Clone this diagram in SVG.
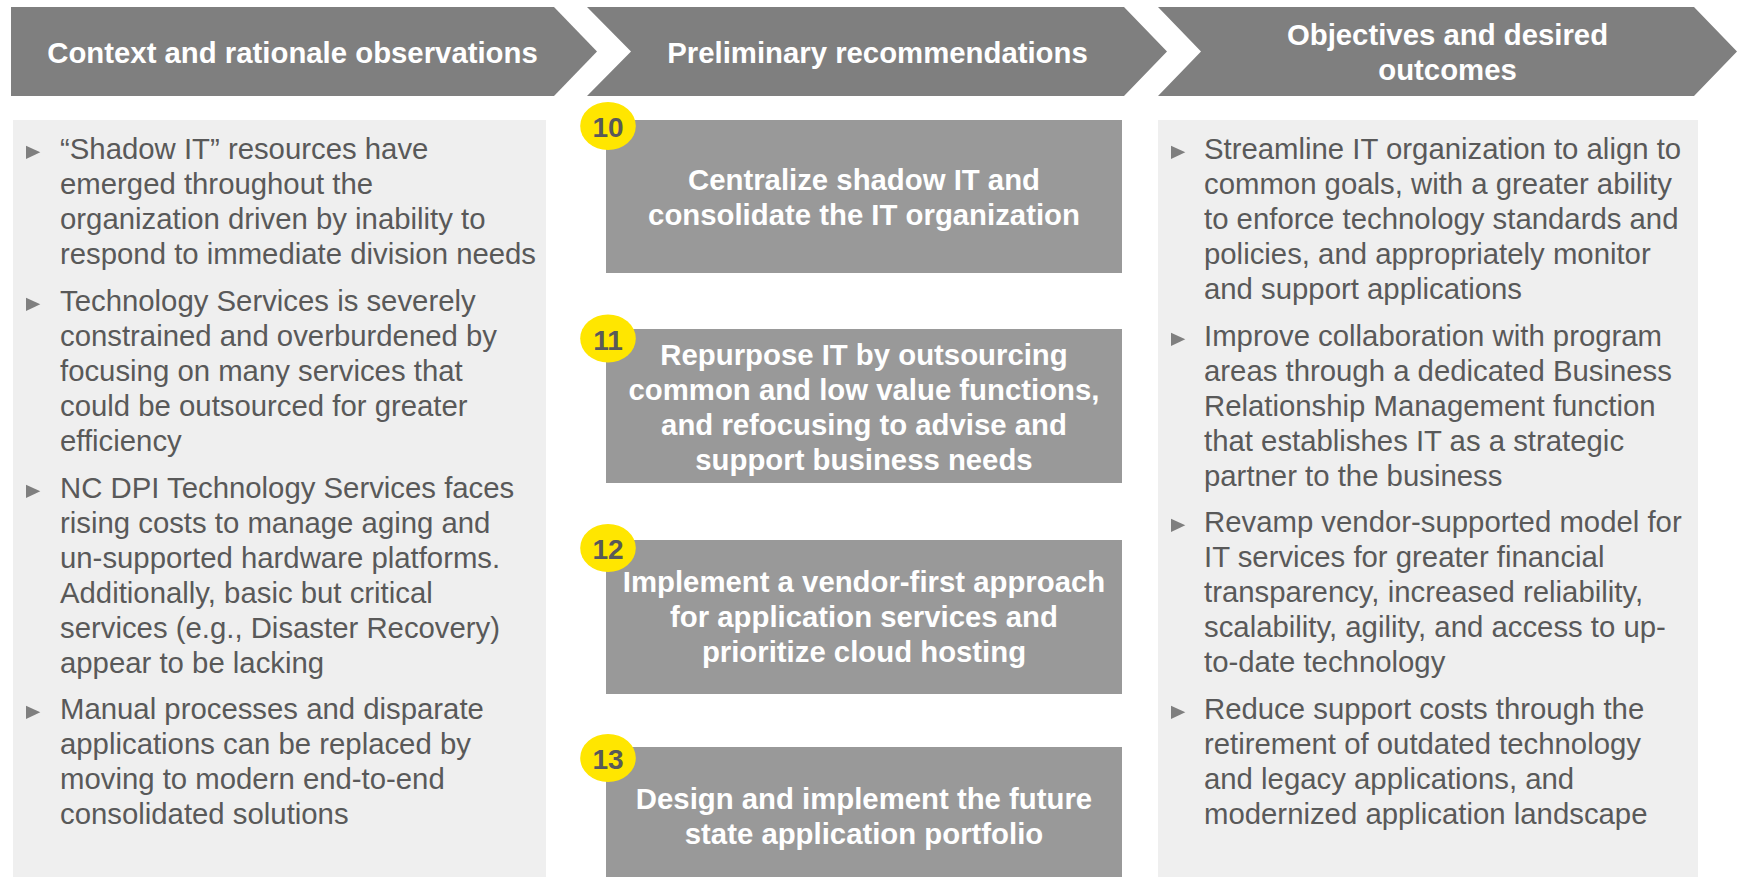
<svg xmlns="http://www.w3.org/2000/svg" xmlns:xlink="http://www.w3.org/1999/xlink" width="1743" height="877" viewBox="0 0 1743 877">
<style>
.chev{fill:#7f7f7f}
.panel{fill:#efefef}
.box{fill:#999999}
.badge{fill:#ffe600}
.hdr{font-family:"Liberation Sans",Arial,sans-serif;font-weight:bold;font-size:29.33px;fill:#ffffff;text-anchor:middle}
.rec{font-family:"Liberation Sans",Arial,sans-serif;font-weight:bold;font-size:29.33px;fill:#ffffff;text-anchor:middle}
.body{font-family:"Liberation Sans",Arial,sans-serif;font-size:29.33px;fill:#595959}
.num{font-family:"Liberation Sans",Arial,sans-serif;font-weight:bold;font-size:28px;fill:#595959;text-anchor:middle}
.bul{fill:#7f7f7f}
</style>
<defs>
<path id="tri" d="M0,-6.6 L14.3,0 L0,6.6 Z"/>
</defs>
<g id="header-context">
<polygon class="chev" points="11,7 554,7 597,51.5 554,96 11,96"/>
<text class="hdr" x="292.5" y="63">Context and rationale observations</text>
</g>
<g id="header-recommendations">
<polygon class="chev" points="587,7 1124,7 1167,51.5 1124,96 587,96 631,51.5"/>
<text class="hdr" x="877.5" y="63">Preliminary recommendations</text>
</g>
<g id="header-objectives">
<polygon class="chev" points="1158,7 1694,7 1737,51.5 1694,96 1158,96 1201,51.5"/>
<text class="hdr" x="1447.5" y="45">Objectives and desired<tspan x="1447.5" y="80">outcomes</tspan></text>
</g>
<g id="panel-context">
<rect class="panel" x="13" y="120" width="533" height="757"/>
<use class="bul" xlink:href="#tri" x="26" y="152.3"/>
<use class="bul" xlink:href="#tri" x="26" y="304.3"/>
<use class="bul" xlink:href="#tri" x="26" y="491.3"/>
<use class="bul" xlink:href="#tri" x="26" y="712.3"/>
<text class="body" x="60" y="159">“Shadow IT” resources have<tspan x="60" y="194">emerged throughout the</tspan><tspan x="60" y="229">organization driven by inability to</tspan><tspan x="60" y="264">respond to immediate division needs</tspan></text>
<text class="body" x="60" y="311">Technology Services is severely<tspan x="60" y="346">constrained and overburdened by</tspan><tspan x="60" y="381">focusing on many services that</tspan><tspan x="60" y="416">could be outsourced for greater</tspan><tspan x="60" y="451">efficiency</tspan></text>
<text class="body" x="60" y="498">NC DPI Technology Services faces<tspan x="60" y="533">rising costs to manage aging and</tspan><tspan x="60" y="568">un-supported hardware platforms.</tspan><tspan x="60" y="603">Additionally, basic but critical</tspan><tspan x="60" y="638">services (e.g., Disaster Recovery)</tspan><tspan x="60" y="673">appear to be lacking</tspan></text>
<text class="body" x="60" y="719">Manual processes and disparate<tspan x="60" y="754">applications can be replaced by</tspan><tspan x="60" y="789">moving to modern end-to-end</tspan><tspan x="60" y="824">consolidated solutions</tspan></text>
</g>
<g id="rec-10">
<rect class="box" x="606" y="120" width="516" height="153"/>
<ellipse class="badge" cx="608" cy="126" rx="27.8" ry="24"/>
<text class="num" x="608" y="137">10</text>
<text class="rec" x="864" y="190">Centralize shadow IT and<tspan x="864" y="225">consolidate the IT organization</tspan></text>
</g>
<g id="rec-11">
<rect class="box" x="606" y="329" width="516" height="154"/>
<ellipse class="badge" cx="608" cy="338.5" rx="27.8" ry="24"/>
<text class="num" x="608" y="349.5">11</text>
<text class="rec" x="864" y="365">Repurpose IT by outsourcing<tspan x="864" y="400">common and low value functions,</tspan><tspan x="864" y="435">and refocusing to advise and</tspan><tspan x="864" y="470">support business needs</tspan></text>
</g>
<g id="rec-12">
<rect class="box" x="606" y="540" width="516" height="154"/>
<ellipse class="badge" cx="608" cy="548" rx="27.8" ry="24"/>
<text class="num" x="608" y="559">12</text>
<text class="rec" x="864" y="592">Implement a vendor-first approach<tspan x="864" y="627">for application services and</tspan><tspan x="864" y="662">prioritize cloud hosting</tspan></text>
</g>
<g id="rec-13">
<rect class="box" x="606" y="747" width="516" height="130"/>
<ellipse class="badge" cx="608" cy="758" rx="27.8" ry="24"/>
<text class="num" x="608" y="769">13</text>
<text class="rec" x="864" y="809">Design and implement the future<tspan x="864" y="844">state application portfolio</tspan></text>
</g>
<g id="panel-objectives">
<rect class="panel" x="1158" y="120" width="540" height="757"/>
<use class="bul" xlink:href="#tri" x="1171" y="152.3"/>
<use class="bul" xlink:href="#tri" x="1171" y="339.3"/>
<use class="bul" xlink:href="#tri" x="1171" y="525.3"/>
<use class="bul" xlink:href="#tri" x="1171" y="712.3"/>
<text class="body" x="1204" y="159">Streamline IT organization to align to<tspan x="1204" y="194">common goals, with a greater ability</tspan><tspan x="1204" y="229">to enforce technology standards and</tspan><tspan x="1204" y="264">policies, and appropriately monitor</tspan><tspan x="1204" y="299">and support applications</tspan></text>
<text class="body" x="1204" y="346">Improve collaboration with program<tspan x="1204" y="381">areas through a dedicated Business</tspan><tspan x="1204" y="416">Relationship Management function</tspan><tspan x="1204" y="451">that establishes IT as a strategic</tspan><tspan x="1204" y="486">partner to the business</tspan></text>
<text class="body" x="1204" y="532">Revamp vendor-supported model for<tspan x="1204" y="567">IT services for greater financial</tspan><tspan x="1204" y="602">transparency, increased reliability,</tspan><tspan x="1204" y="637">scalability, agility, and access to up-</tspan><tspan x="1204" y="672">to-date technology</tspan></text>
<text class="body" x="1204" y="719">Reduce support costs through the<tspan x="1204" y="754">retirement of outdated technology</tspan><tspan x="1204" y="789">and legacy applications, and</tspan><tspan x="1204" y="824">modernized application landscape</tspan></text>
</g>
<g id="connectors"></g>
</svg>
